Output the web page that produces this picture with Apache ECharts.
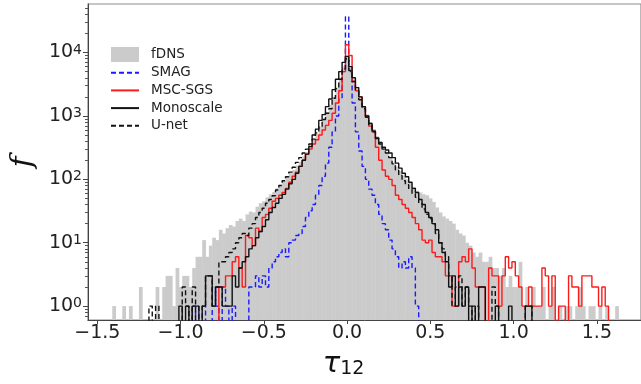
<!DOCTYPE html>
<html>
<head>
<meta charset="utf-8">
<script src="https://cdn.jsdelivr.net/npm/echarts@6.0.0/dist/echarts.min.js"></script>
<style>
html, body { margin: 0; padding: 0; background: #fff; }
#chart { width: 641px; height: 384px; }
</style>
</head>
<body>
<div id="chart"></div>
<script>
// histogram counts, one value per bin (bin centres start at *Start, step binWidth)
var binWidth = 0.02;

var fdnsStart = -1.42;
var fdnsCounts = [
    0, 1, 0, 0, 1, 0, 1, 0, 0, 2,
    0, 0, 0, 0, 2, 0, 2, 3, 3, 1,
    4, 2, 3, 3, 2, 4, 6, 6, 11, 6,
    9, 12, 11, 16, 14, 17, 19, 18, 22, 24,
    22, 28,
    31, 30, 37, 42, 45, 52, 58, 63, 72, 82,
    95, 110, 125, 140, 165, 190, 230, 270, 330, 420,
    530, 680, 880, 1150, 1500, 2000, 2800, 4000, 6000, 9000,
    5800, 3800, 2700, 1900, 1400, 1050, 800, 620, 480, 390,
    320, 265, 220, 185, 160, 135, 115, 100, 88, 76,
    66, 62, 58, 56, 50, 44, 36, 30, 26, 24,
    22, 20, 16, 14, 13, 10, 9, 7, 6, 7,
    5, 5, 6, 4, 4, 3, 4, 2, 3, 2,
    2, 5, 1, 2, 1, 2, 1, 1, 2, 0,
    1, 2, 0, 1, 0, 1, 1, 0, 1, 2,
    1, 0, 1, 1, 0, 1, 0, 1, 0, 0,
    1
];

var smagStart = -0.92;
var smagCounts = [
    1, 0, 1, 1, 0, 0, 2, 1, 0, 2,
    1, 0, 1, 0, 0, 0, 0, 2, 2, 3,
    2, 3, 2, 4, 5, 6, 7, 8, 6, 10,
    11, 13, 14, 18, 25, 32, 40, 56, 80, 112,
    180, 320, 560, 1000, 1900, 5000, 36600, 5000, 1600, 560,
    280, 160, 100, 70, 56, 40, 28, 20, 16, 11,
    8, 6, 4, 5, 4, 6, 4, 1
];

var mscStart = -0.76;
var mscCounts = [
    2, 2, 3, 3, 5, 6, 4, 2, 13, 12,
    9, 17, 15, 25, 28, 35, 45, 50, 56, 62,
    72, 90, 112, 130, 160, 200, 250, 300, 360, 420,
    500, 600, 710, 850, 1100, 1600, 2500, 5000, 13300, 9000,
    3500, 2500, 2000, 1400, 1000, 690, 560, 320, 200, 140,
    112, 100, 80, 56, 48, 40, 35, 30, 25, 20,
    16, 11, 10, 11, 7, 6, 6, 5, 3, 3,
    1, 1, 5, 6, 5, 8, 4, 2, 2, 2,
    0, 4, 3, 3, 1, 3, 6, 4, 5, 3,
    2, 1, 1, 2, 1, 1, 1, 4, 3, 1,
    3, 0, 1, 1, 0, 3, 2, 2, 1, 3,
    3, 3, 2, 2, 1, 2, 1
];

var monoStart = -1.00;
var monoCounts = [
    1, 0, 1, 0, 1, 1, 0, 1, 3, 3,
    1, 2, 2, 1, 1, 1, 3, 2, 4, 5,
    6, 8, 9, 12, 15, 18, 23, 30, 36, 42,
    50, 58, 70, 85, 100, 125, 160, 200, 250, 330,
    500, 620, 850, 1050, 1400, 1850, 2600, 3800, 5000, 7000,
    8700, 6000, 4000, 2800, 2000, 1400, 1000, 760, 580, 450,
    380, 320, 290, 260, 220, 180, 150, 125, 110, 90,
    72, 62, 48, 40, 30, 25, 20, 16, 10, 7,
    5, 2, 3, 1, 2, 1, 2, 0, 1, 0,
    2, 2, 0, 0, 0, 1, 0, 0, 0, 1,
    0, 0, 0, 0, 1, 1
];

var unetStart = -1.18;
var unetCounts = [
    1, 0, 1, 0, 0, 0, 0, 0, 0, 0,
    2, 1, 0, 2, 0, 0, 1, 3, 3, 1,
    2, 5, 5, 6, 7, 8, 10, 12, 14, 13,
    17, 20, 25, 30, 35, 42, 48, 55, 68, 80,
    95, 110, 130, 155, 185, 220, 260, 300, 360, 430,
    540, 680, 880, 1100, 1300, 1900, 2700, 3800, 5500, 8000,
    5200, 3500, 2500, 1800, 1300, 950, 720, 560, 440, 360,
    300, 260, 220, 175, 140, 115, 95, 82, 70, 60,
    52, 42, 34, 28, 24, 20, 14, 10, 8, 6,
    3, 1, 2, 3, 1, 2, 1, 0, 1, 0,
    0, 0, 0, 2, 1, 0, 0, 0, 0, 0,
    0, 0, 0, 1, 1
];

var xTicks = [-1.5, -1.0, -0.5, 0.0, 0.5, 1.0, 1.5];
var yTicks = [1, 10, 100, 1000, 10000];
var yMinorTicks = [
    0.7, 0.8, 0.9,
    2, 3, 4, 5, 6, 7, 8, 9,
    20, 30, 40, 50, 60, 70, 80, 90,
    200, 300, 400, 500, 600, 700, 800, 900,
    2000, 3000, 4000, 5000, 6000, 7000, 8000, 9000,
    20000, 30000, 40000, 50000
];

var xMin = -1.556, xMax = 1.765;
var yMin = 0.604, yMax = 58300;
var floorValue = 0.1; // empty bins drop below the axis and get clipped

function stepData(start, counts) {
    var left = start - binWidth / 2;
    var pts = [[left, floorValue]];
    for (var i = 0; i < counts.length; i++) {
        pts.push([left + i * binWidth, counts[i] > 0 ? counts[i] : floorValue]);
    }
    pts.push([left + counts.length * binWidth, floorValue]);
    return pts;
}

function barData(start, counts) {
    var out = [];
    for (var i = 0; i < counts.length; i++) {
        if (counts[i] > 0) out.push([start + i * binWidth, counts[i]]);
    }
    return out;
}

function stepSeries(name, start, counts, color, dashed) {
    return {
        name: name,
        type: 'line',
        step: 'end',
        data: stepData(start, counts),
        symbol: 'none',
        showSymbol: false,
        clip: true,
        color: color,
        lineStyle: { color: color, width: 1.4, type: dashed ? [5, 3] : 'solid' },
        emphasis: { disabled: true },
        animation: false
    };
}

var tickFont = 'DejaVu Sans';
var noSymbol = { color: 'rgba(0,0,0,0)', borderWidth: 0, opacity: 0 };

var myChart = echarts.init(document.getElementById('chart'), null, { renderer: 'canvas' });
var option = {
    animation: false,
    backgroundColor: '#fff',
    grid: {
        left: 78, top: 4, right: -2, bottom: 61,
        show: true, borderColor: '#8c8c8c', borderWidth: 1.2
    },
    legend: {
        orient: 'vertical',
        left: 110, top: 47,
        padding: 0,
        itemWidth: 28, itemHeight: 15, itemGap: 3.7,
        textStyle: { fontFamily: tickFont, fontSize: 13.5, color: '#222', padding: [0, 0, 0, 7] },
        data: [
            { name: 'fDNS', icon: 'rect' },
            { name: 'SMAG', itemStyle: noSymbol },
            { name: 'MSC-SGS', itemStyle: noSymbol },
            { name: 'Monoscale', itemStyle: noSymbol },
            { name: 'U-net', itemStyle: noSymbol }
        ]
    },
    xAxis: {
        type: 'value',
        min: xMin, max: xMax,
        splitLine: { show: false },
        axisLine: { show: true, onZero: false, lineStyle: { color: '#444', width: 1 } },
        axisTick: { show: true, customValues: xTicks, length: 4, lineStyle: { color: '#444' } },
        axisLabel: {
            customValues: xTicks,
            margin: 4,
            fontFamily: tickFont, fontSize: 19, color: '#222',
            formatter: function (v) { return v.toFixed(1).replace('-', '\u2212'); }
        },
        name: '{t|\u03c4}{s|12}',
        nameLocation: 'middle',
        nameGap: 30,
        nameTextStyle: {
            padding: [0, 42, 0, 0],
            rich: {
                t: { fontFamily: tickFont, fontStyle: 'italic', fontSize: 29, color: '#111' },
                s: { fontFamily: tickFont, fontSize: 19, color: '#111', verticalAlign: 'bottom' }
            }
        }
    },
    yAxis: [{
        type: 'log',
        min: yMin, max: yMax,
        splitLine: { show: false },
        axisLine: { show: true, onZero: false, lineStyle: { color: '#444', width: 1 } },
        axisTick: { show: true, customValues: yTicks, length: 5, lineStyle: { color: '#444' } },
        axisLabel: {
            customValues: yTicks,
            margin: 6,
            formatter: function (v) {
                return '{b|10}{e|' + Math.round(Math.log10(v)) + '}';
            },
            rich: {
                b: { fontFamily: tickFont, fontSize: 19, color: '#222' },
                e: { fontFamily: tickFont, fontSize: 14, color: '#222', verticalAlign: 'top' }
            }
        },
        name: 'f',
        nameLocation: 'middle',
        nameRotate: 90,
        nameGap: 44,
        nameTextStyle: { fontFamily: 'DejaVu Serif', fontStyle: 'italic', fontSize: 30, color: '#111' }
    }, {
        type: 'log',
        min: yMin, max: yMax,
        position: 'left',
        splitLine: { show: false },
        axisLine: { show: false, onZero: false },
        axisTick: { show: true, customValues: yMinorTicks, length: 3, lineStyle: { color: '#555' } },
        axisLabel: { show: false }
    }],
    series: [
        {
            name: 'fDNS',
            type: 'custom',
            color: '#cbcbcb',
            itemStyle: { color: '#cbcbcb' },
            clip: true,
            data: barData(fdnsStart, fdnsCounts),
            renderItem: function (params, api) {
                var c = api.value(0), v = api.value(1);
                var p1 = api.coord([c - binWidth / 2, v]);
                var p2 = api.coord([c + binWidth / 2, yMin]);
                return {
                    type: 'rect',
                    shape: { x: p1[0], y: p1[1], width: p2[0] - p1[0] + 0.4, height: p2[1] - p1[1] },
                    style: { fill: '#cbcbcb' }
                };
            },
            animation: false
        },
        stepSeries('SMAG', smagStart, smagCounts, '#1a1aff', true),
        stepSeries('MSC-SGS', mscStart, mscCounts, '#ff1a1a', false),
        stepSeries('Monoscale', monoStart, monoCounts, '#111111', false),
        stepSeries('U-net', unetStart, unetCounts, '#111111', true)
    ]
};
myChart.setOption(option);
</script>
</body>
</html>
